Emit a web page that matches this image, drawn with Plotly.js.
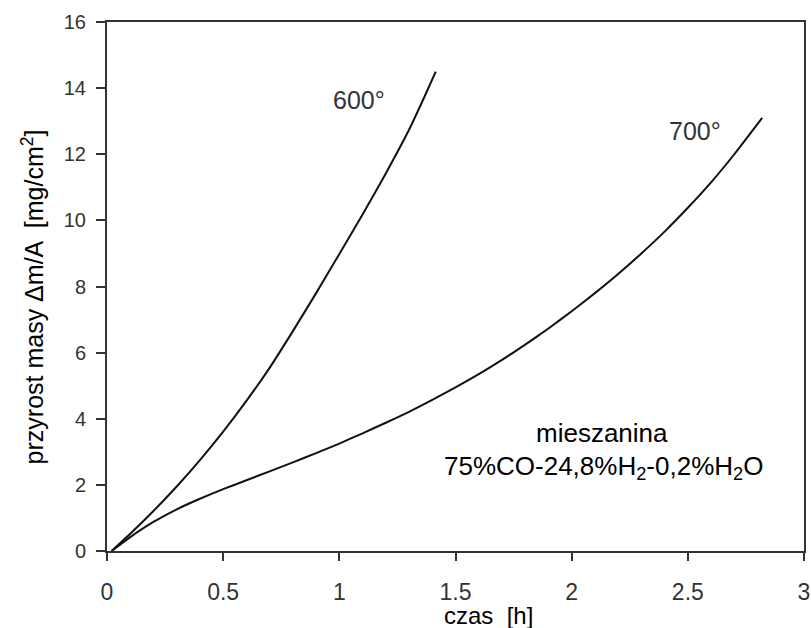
<!DOCTYPE html>
<html>
<head>
<meta charset="utf-8">
<script src="https://cdn.plot.ly/plotly-3.0.1.min.js"></script>
<style>html,body{margin:0;padding:0;background:#fff;}#chart{width:811px;height:628px;}</style>
</head>
<body>
<div id="chart"></div>
<script>
// 600° series
const x600 = [0.02, 0.1, 0.2, 0.3, 0.4, 0.5, 0.6, 0.7, 0.8, 0.9, 1.0, 1.1, 1.2, 1.3, 1.36, 1.415];
const y600 = [0, 0.52, 1.21, 1.95, 2.75, 3.61, 4.54, 5.54, 6.65, 7.8, 8.98, 10.18, 11.42, 12.74, 13.64, 14.5];
// 700° series
const x700 = [0.02, 0.05, 0.1, 0.15, 0.2, 0.3, 0.4, 0.5, 0.6, 0.7, 0.8, 0.9, 1.0, 1.1, 1.2, 1.3, 1.4, 1.5, 1.6, 1.7, 1.8, 1.9, 2.0, 2.1, 2.2, 2.3, 2.4, 2.5, 2.6, 2.7, 2.82];
const y700 = [0, 0.16, 0.42, 0.66, 0.88, 1.26, 1.58, 1.87, 2.14, 2.41, 2.68, 2.96, 3.25, 3.56, 3.88, 4.21, 4.57, 4.95, 5.35, 5.78, 6.24, 6.73, 7.25, 7.8, 8.38, 9.0, 9.66, 10.38, 11.15, 12.0, 13.1];
// axis ticks
const xTicks = [0, 0.5, 1, 1.5, 2, 2.5, 3];
const xTickText = ["0", "0.5", "1", "1.5", "2", "2.5", "3"];
const yTicks = [0, 2, 4, 6, 8, 10, 12, 14, 16];
// labels
const curveLabels = ["600°", "700°"];
const mixLine1 = "mieszanina";
const mixLine2 = "75%CO-24,8%H<sub>2</sub>-0,2%H<sub>2</sub>O";
const xTitle = "czas  [h]";
const yTitle = "przyrost masy Δm/A  [mg/cm<sup>2</sup>]";

const lineStyle = {color: "#111", width: 2, shape: "spline", smoothing: 0.5};
const traces = [
  {x: x600, y: y600, mode: "lines", line: lineStyle, showlegend: false, hoverinfo: "skip"},
  {x: x700, y: y700, mode: "lines", line: lineStyle, showlegend: false, hoverinfo: "skip"}
];

const layout = {
  width: 811, height: 628,
  margin: {l: 107, r: 7, t: 22, b: 77},
  paper_bgcolor: "#fff", plot_bgcolor: "#fff",
  font: {family: "Arial, Liberation Sans, sans-serif", color: "#222"},
  xaxis: {
    range: [0, 3], tickvals: xTicks, ticktext: xTickText,
    showgrid: false, zeroline: false,
    showline: true, linecolor: "#333", linewidth: 2, mirror: true,
    ticks: "outside", ticklen: 8, tickwidth: 2, tickcolor: "#333",
    tickfont: {size: 23, color: "#333"}, ticklabelstandoff: 11
  },
  yaxis: {
    range: [0, 16], tickvals: yTicks,
    showgrid: false, zeroline: false,
    showline: true, linecolor: "#333", linewidth: 2, mirror: true,
    ticks: "outside", ticklen: 9, tickwidth: 2, tickcolor: "#333",
    tickfont: {size: 20, color: "#333"}, ticklabelstandoff: 6
  },
  annotations: [
    {x: 1.085, y: 13.65, xref: "x", yref: "y", text: curveLabels[0], showarrow: false, font: {size: 25, color: "#333"}},
    {x: 2.53, y: 12.7, xref: "x", yref: "y", text: curveLabels[1], showarrow: false, font: {size: 25, color: "#333"}},
    {x: 2.13, y: 3.58, xref: "x", yref: "y", text: mixLine1, showarrow: false, font: {size: 26, color: "#000"}},
    {x: 2.135, y: 2.52, xref: "x", yref: "y", text: mixLine2, showarrow: false, font: {size: 26, color: "#000"}},
    {x: 1.64, y: 0, xref: "paper", yref: "paper", yshift: -64, yanchor: "middle", text: xTitle, showarrow: false, font: {size: 24, color: "#000"}},
    {x: 0, y: 7.67, xref: "paper", yref: "y", xshift: -74, xanchor: "center", yanchor: "middle", textangle: -90, text: yTitle, showarrow: false, font: {size: 25, color: "#000"}}
  ]
};
layout.annotations[4].xref = "x";

Plotly.newPlot("chart", traces, layout, {staticPlot: true, displayModeBar: false});
</script>
</body>
</html>
